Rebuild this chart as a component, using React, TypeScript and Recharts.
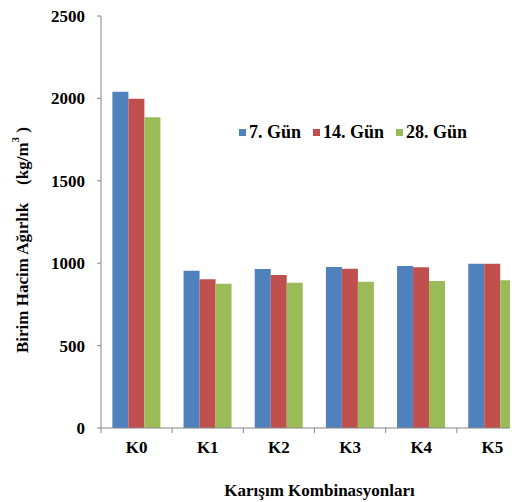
import React from 'react';
import { BarChart, Bar, XAxis, YAxis } from 'recharts';

// Mixture combinations and unit weights (kg/m³) at each curing age
const mixes = ['K0', 'K1', 'K2', 'K3', 'K4', 'K5'];
const day7 = [2040, 954, 965, 977, 983, 997];
const day14 = [1998, 902, 928, 967, 975, 997];
const day28 = [1885, 876, 882, 888, 892, 896];
const seriesNames = ['7. Gün', '14. Gün', '28. Gün'];
const seriesKeys = ['d7', 'd14', 'd28'];
const seriesColors = ['#4F81BD', '#C0504D', '#9BBB59'];
const yTicks = [0, 500, 1000, 1500, 2000, 2500];

const data = mixes.map((m, i) => ({
  name: m,
  d7: day7[i],
  d14: day14[i],
  d28: day28[i],
}));

const FONT = '"Liberation Serif", "Times New Roman", serif';
const AXIS = '#868686';

// Category label with a tick mark on the category boundary
const XTick = (props: any) => {
  const { x, y, payload, index, visibleTicksCount } = props;
  const half = payload && payload.offset ? payload.offset : 0;
  return (
    <g>
      <line x1={x - half} x2={x - half} y1={y - 8} y2={y - 3} stroke={AXIS} strokeWidth={1} />
      {index === visibleTicksCount - 1 && (
        <line x1={x + half} x2={x + half} y1={y - 8} y2={y - 3} stroke={AXIS} strokeWidth={1} />
      )}
      <text
        x={x}
        y={y + 17}
        textAnchor="middle"
        fontFamily={FONT}
        fontWeight="bold"
        fontSize={17}
        fill="#000"
      >
        {payload.value}
      </text>
    </g>
  );
};

const YLabel = (props: any) => {
  const { viewBox } = props;
  const cx = 14;
  const cy = viewBox.y + viewBox.height / 2 + 18;
  return (
    <text
      x={cx}
      y={cy}
      transform={`rotate(-90, ${cx}, ${cy})`}
      textAnchor="middle"
      dominantBaseline="central"
      fontFamily={FONT}
      fontWeight="bold"
      fontSize={17}
      fill="#000"
    >
      Birim Hacim Ağırlık
      <tspan dx={18}>(kg/m</tspan>
      <tspan fontSize={11} dy={-7}>3</tspan>
      <tspan dy={7}>{'\u00A0'})</tspan>
    </text>
  );
};

const XLabel = (props: any) => {
  const { viewBox } = props;
  return (
    <text
      x={viewBox.x + viewBox.width / 2 + 5}
      y={viewBox.y + 68}
      textAnchor="middle"
      fontFamily={FONT}
      fontWeight="bold"
      fontSize={17}
      fill="#000"
    >
      Karışım Kombinasyonları
    </text>
  );
};

export default function App() {
  return (
    <div style={{ position: 'relative', width: 510, height: 494, overflow: 'hidden' }}>
      <BarChart
        width={522}
        height={494}
        data={data}
        margin={{ top: 8, right: 2, bottom: 0, left: 0 }}
        barCategoryGap="16%"
        barGap={0}
      >
        <XAxis
          dataKey="name"
          height={74}
          axisLine={{ stroke: AXIS }}
          tickLine={false}
          tick={<XTick />}
          interval={0}
          label={<XLabel />}
        />
        <YAxis
          width={93}
          domain={[0, 2500]}
          ticks={yTicks}
          interval={0}
          axisLine={{ stroke: AXIS }}
          tickLine={{ stroke: AXIS }}
          tickSize={4}
          tickMargin={12}
          tick={{ fontFamily: FONT, fontWeight: 'bold', fontSize: 17, fill: '#000' }}
          label={<YLabel />}
        />
        {seriesKeys.map((k, i) => (
          <Bar key={k} dataKey={k} name={seriesNames[i]} fill={seriesColors[i]} isAnimationActive={false} />
        ))}
      </BarChart>
      {/* series legend */}
      <div
        style={{
          position: 'absolute',
          top: 115,
          left: 231,
          display: 'flex',
          alignItems: 'center',
          height: 18,
        }}
      >
        {seriesNames.map((n, i) => (
          <div key={n} style={{ display: 'flex', alignItems: 'center', marginRight: 12 }}>
            <span
              style={{
                display: 'inline-block',
                width: 7,
                height: 7,
                background: seriesColors[i],
                marginRight: 3,
              }}
            />
            <span
              style={{
                fontFamily: FONT,
                fontWeight: 'bold',
                fontSize: 18,
                color: '#000',
                lineHeight: '18px',
                whiteSpace: 'nowrap',
              }}
            >
              {n}
            </span>
          </div>
        ))}
      </div>
    </div>
  );
}
